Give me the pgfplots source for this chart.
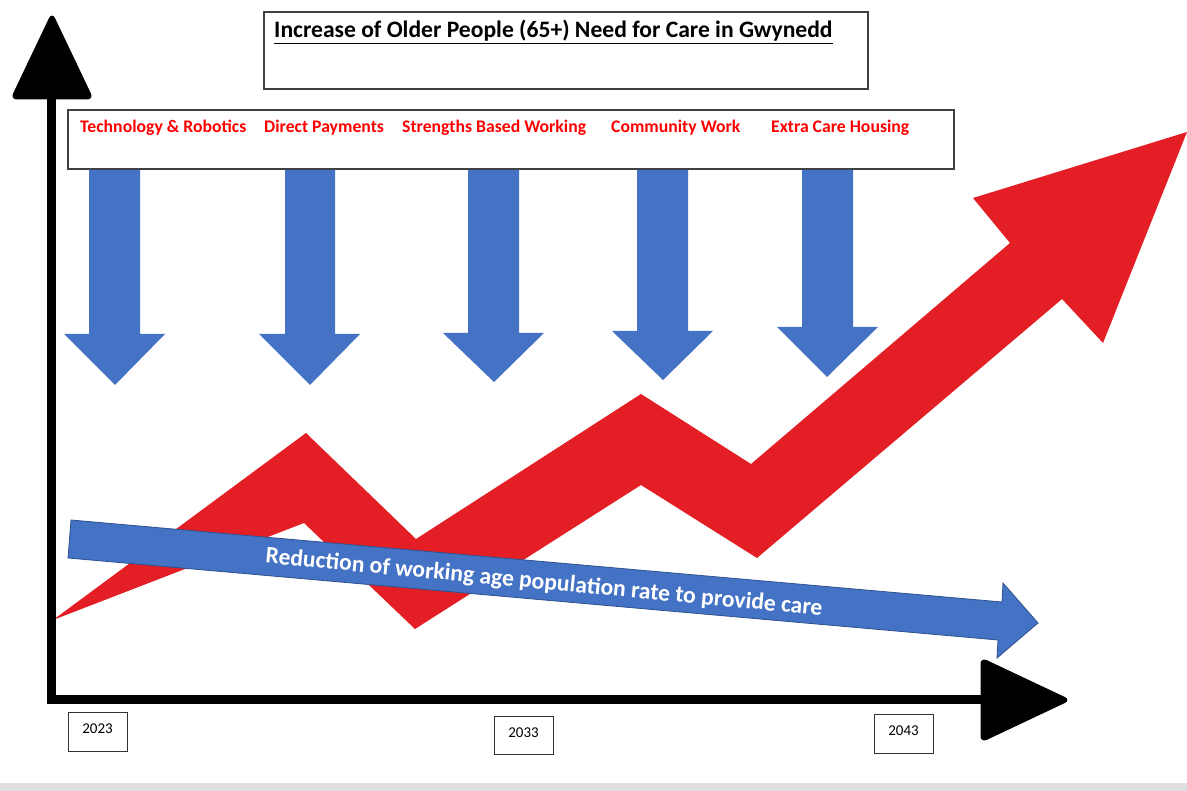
\documentclass[border=0pt]{standalone}
\usepackage{pgfplots}
\pgfplotsset{compat=1.18}
\usepackage{fontspec}
\setmainfont{Carlito}
\definecolor{ored}{HTML}{E31E24}
\definecolor{oblue}{HTML}{4472C4}
\definecolor{oblueedge}{HTML}{2F528F}
\definecolor{lblred}{HTML}{FF0000}
\begin{document}
\begin{tikzpicture}
\begin{axis}[
  scale only axis, width=1187pt, height=791pt,
  xmin=0, xmax=1187, ymin=0, ymax=791, y dir=reverse,
  hide axis, no markers, clip=true,
]
% background and bottom strip
\addplot[fill=white, draw=none] coordinates {(0,0) (1187,0) (1187,791) (0,791)} --cycle;
\addplot[fill=black!12, draw=none] coordinates {(0,783) (1187,783) (1187,791) (0,791)} --cycle;

% title box
\addplot[draw=black!75, line width=1.2pt, fill=white] coordinates {(264,12) (868,12) (868,89) (264,89)} --cycle;
% labels box
\addplot[draw=black!75, line width=1.2pt, fill=white] coordinates {(68,110) (954,110) (954,169) (68,169)} --cycle;

% blue down arrows
\addplot[fill=oblue, draw=none] coordinates {(89,170) (140,170) (140,334) (165,334) (115,385) (64,334) (89,334)} --cycle;
\addplot[fill=oblue, draw=none] coordinates {(285,170) (335,170) (335,334) (360,334) (310,385) (259,334) (285,334)} --cycle;
\addplot[fill=oblue, draw=none] coordinates {(468,170) (519,170) (519,333) (544,333) (494,382) (443,333) (468,333)} --cycle;
\addplot[fill=oblue, draw=none] coordinates {(637,170) (688,170) (688,331) (713,331) (663,380) (612,331) (637,331)} --cycle;
\addplot[fill=oblue, draw=none] coordinates {(802,170) (853,170) (853,327) (878,327) (827,377) (777,327) (802,327)} --cycle;

% red zigzag arrow
\addplot[fill=ored, draw=none] coordinates {
  (53,620) (306,433) (416,539) (641,394) (751,464) (1010,243) (973,198)
  (1187,132) (1103,343) (1062,299) (757,558) (641,485) (415,629) (304,523)
} --cycle;

% blue horizontal arrow
\addplot[fill=oblue, draw=oblueedge, line width=0.8pt] coordinates {
  (71,520) (1002,602) (1003,583) (1038,623) (997,658) (998,640) (68,558)
} --cycle;

% black axes
\addplot[black, line width=8.5pt, line join=miter] coordinates {(51.5,95) (51.5,699.5) (990,699.5)};
\addplot[fill=black, draw=black, line width=1pt, rounded corners=6pt] coordinates {(52,13) (93,99) (11,99)} --cycle;
\addplot[fill=black, draw=black, line width=1pt, rounded corners=6pt] coordinates {(981,658) (1070,700) (981,742)} --cycle;

% year boxes
\addplot[draw=black!80, line width=1pt, fill=white] coordinates {(68,712) (127,712) (127,751) (68,751)} --cycle;
\addplot[draw=black!80, line width=1pt, fill=white] coordinates {(494,716) (553,716) (553,754) (494,754)} --cycle;
\addplot[draw=black!80, line width=1pt, fill=white] coordinates {(874,714) (933,714) (933,753) (874,753)} --cycle;

% texts
\node[anchor=base west, inner sep=0pt, font=\bfseries\fontsize{23.6}{28}\selectfont] at (axis cs:274,38)
  {\underline{Increase of Older People (65+) Need for Care in Gwynedd}};
\node[anchor=west, inner sep=0pt, text=lblred, font=\bfseries\fontsize{17.7}{21}\selectfont] at (axis cs:80,128) {Technology \& Robotics};
\node[anchor=west, inner sep=0pt, text=lblred, font=\bfseries\fontsize{17.7}{21}\selectfont] at (axis cs:264,128) {Direct Payments};
\node[anchor=west, inner sep=0pt, text=lblred, font=\bfseries\fontsize{17.7}{21}\selectfont] at (axis cs:402,128) {Strengths Based Working};
\node[anchor=west, inner sep=0pt, text=lblred, font=\bfseries\fontsize{17.7}{21}\selectfont] at (axis cs:611,128) {Community Work};
\node[anchor=west, inner sep=0pt, text=lblred, font=\bfseries\fontsize{17.7}{21}\selectfont] at (axis cs:771,128) {Extra Care Housing};

\node[inner sep=0pt, font=\fontsize{15}{18}\selectfont] at (axis cs:97.5,729) {2023};
\node[inner sep=0pt, font=\fontsize{15}{18}\selectfont] at (axis cs:523.5,733) {2033};
\node[inner sep=0pt, font=\fontsize{15}{18}\selectfont] at (axis cs:903.5,731) {2043};

\node[inner sep=0pt, rotate=-5.4, text=white, font=\bfseries\fontsize{23.6}{28}\selectfont] at (axis cs:544,583)
  {Reduction of working age population rate to provide care};
\end{axis}
\end{tikzpicture}
\end{document}
